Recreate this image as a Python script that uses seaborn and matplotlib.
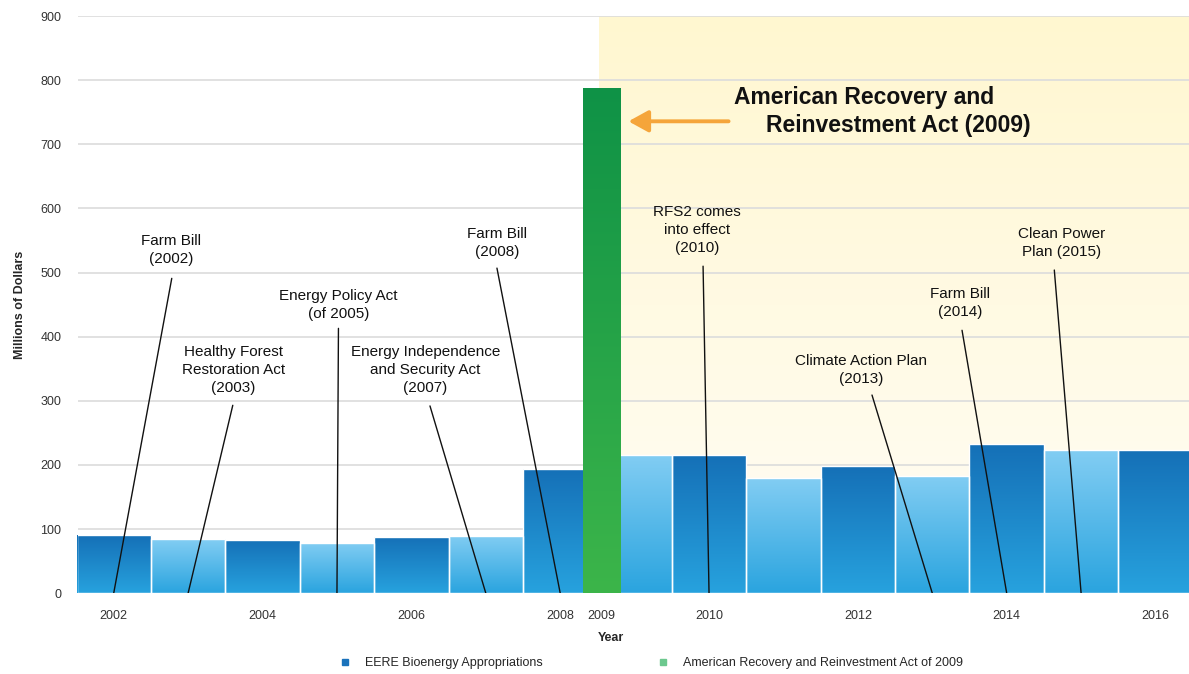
import numpy as np
import matplotlib
matplotlib.use("Agg")
import matplotlib.pyplot as plt
import seaborn as sns
from matplotlib.colors import LinearSegmentedColormap
from matplotlib.lines import Line2D

# data
years = [2002, 2003, 2004, 2005, 2006, 2007, 2008, 2009,
         2010, 2011, 2012, 2013, 2014, 2015, 2016]
eere = [90, 84, 83, 78, 88, 89, 194, 216, 216, 179, 198, 183, 232, 223, 223]
arra_years = [2009]
arra_values = [788]
tick_years = [2002, 2004, 2006, 2008, 2009, 2010, 2012, 2014, 2016]

events = ["Farm Bill\n(2002)", "Healthy Forest\nRestoration Act\n(2003)",
          "Energy Policy Act\n(of 2005)",
          "Energy Independence\nand Security Act\n(2007)", "Farm Bill\n(2008)",
          "RFS2 comes\ninto effect\n(2010)", "Climate Action Plan\n(2013)",
          "Farm Bill\n(2014)", "Clean Power\nPlan (2015)"]
event_years = [2002, 2003, 2005, 2007, 2008, 2010, 2013, 2014, 2015]

sns.set_theme(style="white")
plt.rcParams['font.family'] = ['Liberation Sans', 'DejaVu Sans']

fig = plt.figure(figsize=(11.89, 6.74), dpi=100)
ax = fig.add_axes([0.0656, 0.12, 0.9344, 0.856])

XMIN, XMAX = 2001.52, 2016.45
ARRA_SHIFT = -0.45


def gradient(ax, x0, x1, y0, y1, bottom, top, z):
    cmap = LinearSegmentedColormap.from_list("g", [bottom, top])
    grad = np.linspace(0, 1, 256).reshape(-1, 1)
    return ax.imshow(grad, cmap=cmap, extent=[x0, x1, y0, y1], origin="lower",
                     aspect="auto", zorder=z, interpolation="bilinear")


# yellow background for the post-2009 period
gradient(ax, 2008.52, XMAX, 0, 900, "#fffdf6", "#fff7d0", 0.5)

# gridlines
for v in range(0, 1000, 100):
    ax.axhline(v, color="#dcdcdc", lw=1.2, zorder=1)

# EERE bars
sns.barplot(x=years, y=eere, native_scale=True, width=1.0, color="#1a7dc4",
            edgecolor="white", linewidth=1.0, ax=ax, zorder=2)
bars = list(ax.patches)
for i, p in enumerate(bars):
    x0, w, h = p.get_x(), p.get_width(), p.get_height()
    if years[i] % 2 == 0:
        bot, top = "#27a2de", "#1570b7"
    else:
        bot, top = "#2aa4df", "#82cdf3"
    im = gradient(ax, x0, x0 + w, 0, h, bot, top, 2)
    im.set_clip_path(p)
    p.set_facecolor("none")
    p.set_zorder(2.1)

# ARRA bar
n_before = len(ax.patches)
sns.barplot(x=[y + ARRA_SHIFT for y in arra_years], y=arra_values,
            native_scale=True, width=0.5, color="#1c9a48", linewidth=0,
            ax=ax, zorder=3)
for p in ax.patches[n_before:]:
    x0, w, h = p.get_x(), p.get_width(), p.get_height()
    im = gradient(ax, x0, x0 + w, 0, h, "#3cb54a", "#0f9246", 3)
    im.set_clip_path(p)
    p.set_facecolor("none")

# event annotations (text x, text y, line-top x, line-top y)
label_pos = [(2002.77, 535, 2002.78, 491), (2003.61, 348, 2003.60, 293),
             (2005.02, 449, 2005.02, 413), (2006.19, 348, 2006.25, 292),
             (2007.15, 546, 2007.15, 507), (2009.84, 566, 2009.92, 510),
             (2012.04, 348, 2012.19, 309), (2013.37, 452, 2013.40, 410),
             (2014.74, 546, 2014.64, 504)]
for txt, yr, (tx, ty, lx, ly) in zip(events, event_years, label_pos):
    ax.text(tx, ty, txt, ha="center", va="center", fontsize=11,
            color="#111111", linespacing=1.35, zorder=6)
    ax.plot([lx, yr], [ly, 0], color="#111111", lw=1.0, zorder=5)

# ARRA callout
ax.annotate("", xy=(2008.88, 736), xytext=(2010.3, 736),
            arrowprops=dict(arrowstyle="-|>,head_length=1.0,head_width=0.55",
                            color="#f5a53a", lw=2.8), zorder=6)
ax.text(2010.34, 773, "American Recovery and", fontsize=16.5, fontweight="bold",
        ha="left", va="center", color="#111111", zorder=6)
ax.text(2010.76, 729, "Reinvestment Act (2009)", fontsize=16.5,
        fontweight="bold", ha="left", va="center", color="#111111", zorder=6)

ax.set_xlim(XMIN, XMAX)
ax.set_ylim(0, 900)
tick_pos = [t + ARRA_SHIFT if t in arra_years else t for t in tick_years]
ax.set_xticks(tick_pos)
ax.set_xticklabels([str(t) for t in tick_years], fontsize=9, color="#333333")
ax.set_yticks(range(0, 1000, 100))
ax.set_yticklabels([str(v) for v in range(0, 1000, 100)], fontsize=9,
                   color="#333333")
ax.tick_params(axis="both", length=0, pad=12)
ax.tick_params(axis="y", pad=12)
for s in ax.spines.values():
    s.set_visible(False)

ax.set_ylabel("Millions of Dollars", fontsize=9, fontweight="bold")
ax.yaxis.set_label_coords(-0.047, 0.5)
ax.set_xlabel("Year", fontsize=9, fontweight="bold")
ax.xaxis.set_label_coords(0.4795, -0.068)

handles = [Line2D([], [], marker="s", ls="none", color="#1a72bb", markersize=5),
           Line2D([], [], marker="s", ls="none", color="#6cc88e", markersize=5)]
fig.legend(handles, ["EERE Bioenergy Appropriations",
                     "American Recovery and Reinvestment Act of 2009"],
           loc="center", bbox_to_anchor=(0.545, 0.016), ncol=2, frameon=False,
           fontsize=9, columnspacing=8.6, handletextpad=0.6)

fig.savefig("out.png", dpi=100)
